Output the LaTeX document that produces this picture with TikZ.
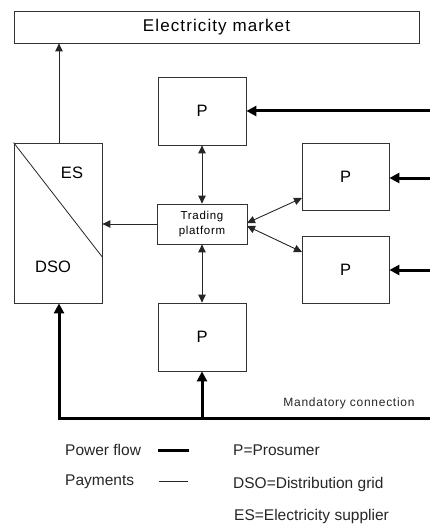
\documentclass[tikz,border=0pt]{standalone}
\usepackage{fontspec}
\setmainfont{Liberation Sans}
\newfontfamily\spacedfont[LetterSpace=6.5]{Liberation Sans}
\newfontfamily\smallspaced[LetterSpace=6]{Liberation Sans}
\usetikzlibrary{arrows.meta,calc}
\begin{document}
\begin{tikzpicture}[x=1pt,y=-1pt,
  box/.style={draw=black!80,line width=0.8pt,rectangle,inner sep=0pt,font=\fontsize{16.5}{18}\selectfont},
  thinarrow/.style={draw=black!85,line width=0.9pt,-{Triangle[length=8pt,width=7.5pt]}},
  thinboth/.style={draw=black!85,line width=0.9pt,{Triangle[length=8pt,width=7.5pt]}-{Triangle[length=8pt,width=7.5pt]}},
  thickarrow/.style={draw=black,line width=3pt,-{Triangle[length=10pt,width=10pt]}},
  lbl/.style={inner sep=0pt,anchor=west,font=\fontsize{15.5}{17}\selectfont,text=black!85}
]
\useasboundingbox (0,0) rectangle (430,524);
% boxes
\node[box,minimum width=405pt,minimum height=32pt] (market) at (216.5,27) {\spacedfont\fontsize{17}{18}\selectfont Electricity market};
\node[box,minimum width=88pt,minimum height=68pt] (ptop) at (202,111) {P};
\node[box,minimum width=87pt,minimum height=67pt] (p1) at (345.5,176.5) {P};
\node[box,minimum width=87pt,minimum height=67pt] (p2) at (345.5,269.5) {P};
\node[box,minimum width=88pt,minimum height=68pt] (pbot) at (202,337) {P};
\node[box,minimum width=90pt,minimum height=40pt,align=center,font=\smallspaced\fontsize{11.5}{15.5}\selectfont] (trade) at (202,224) {Trading\\platform};
\node[box,minimum width=88pt,minimum height=160pt] (dso) at (58,223) {};
\draw[black!85,line width=0.8pt] (dso.north west) -- ($(dso.north east)!0.7125!(dso.south east)$);
\node[inner sep=0pt,font=\fontsize{16.5}{18}\selectfont] (es) at (72,173) {ES};
\node[inner sep=0pt,font=\fontsize{16.5}{18}\selectfont] (dsol) at (53,267) {DSO};
% thin arrows
\draw[thinarrow] (dso.north -| 59,0) -- (market.south -| 59,0);
\draw[thinarrow] (trade.west) -- (trade.west -| dso.east);
\draw[thinboth] (trade.north) -- (ptop.south);
\draw[thinboth] (trade.south) -- (pbot.north);
\coordinate (t1) at (247,223);
\coordinate (t2) at (247,226);
\coordinate (e1) at (302,198);
\coordinate (e2) at (302,252);
\draw[thinboth] (t1) -- (e1);
\draw[thinboth] (t2) -- (e2);
% power flow
\coordinate (busL) at (59,418);
\coordinate (busR) at (430,418);
\coordinate (busM) at (202,418);
\draw[black,line width=3pt] (busL) -- (busR);
\draw[black,line width=3pt] ($(busL)+(0,1.5)$) -- (busL);
\draw[thickarrow] (busL) -- (dso.south -| busL);
\draw[thickarrow] (busM) -- (pbot.south);
\coordinate (r0) at (430,111);
\coordinate (r1) at (430,178);
\coordinate (r2) at (430,270);
\draw[thickarrow] (r0) -- (ptop.east |- r0);
\draw[thickarrow] (r1) -- (p1.east |- r1);
\draw[thickarrow] (r2) -- (p2.east |- r2);
\node[inner sep=0pt,text=black!85] (mand) at (349,403) {\smallspaced\fontsize{12}{14}\selectfont Mandatory connection};
% legend
\node[lbl] (lpf) at (65,450) {Power flow};
\node[lbl] (lpay) at (65,482) {Payments};
\coordinate (lt1) at (158,450);
\coordinate (lt2) at (189,450);
\coordinate (ln1) at (159,481);
\coordinate (ln2) at (188,481);
\draw[black,line width=3pt] (lt1) -- (lt2);
\draw[black!85,line width=0.9pt] (ln1) -- (ln2);
\node[lbl] (lp) at (233,450) {P=Prosumer};
\node[lbl] (ld) at (233,484) {DSO=Distribution grid};
\node[lbl] (le) at (234,516) {ES=Electricity supplier};
\end{tikzpicture}
\end{document}
